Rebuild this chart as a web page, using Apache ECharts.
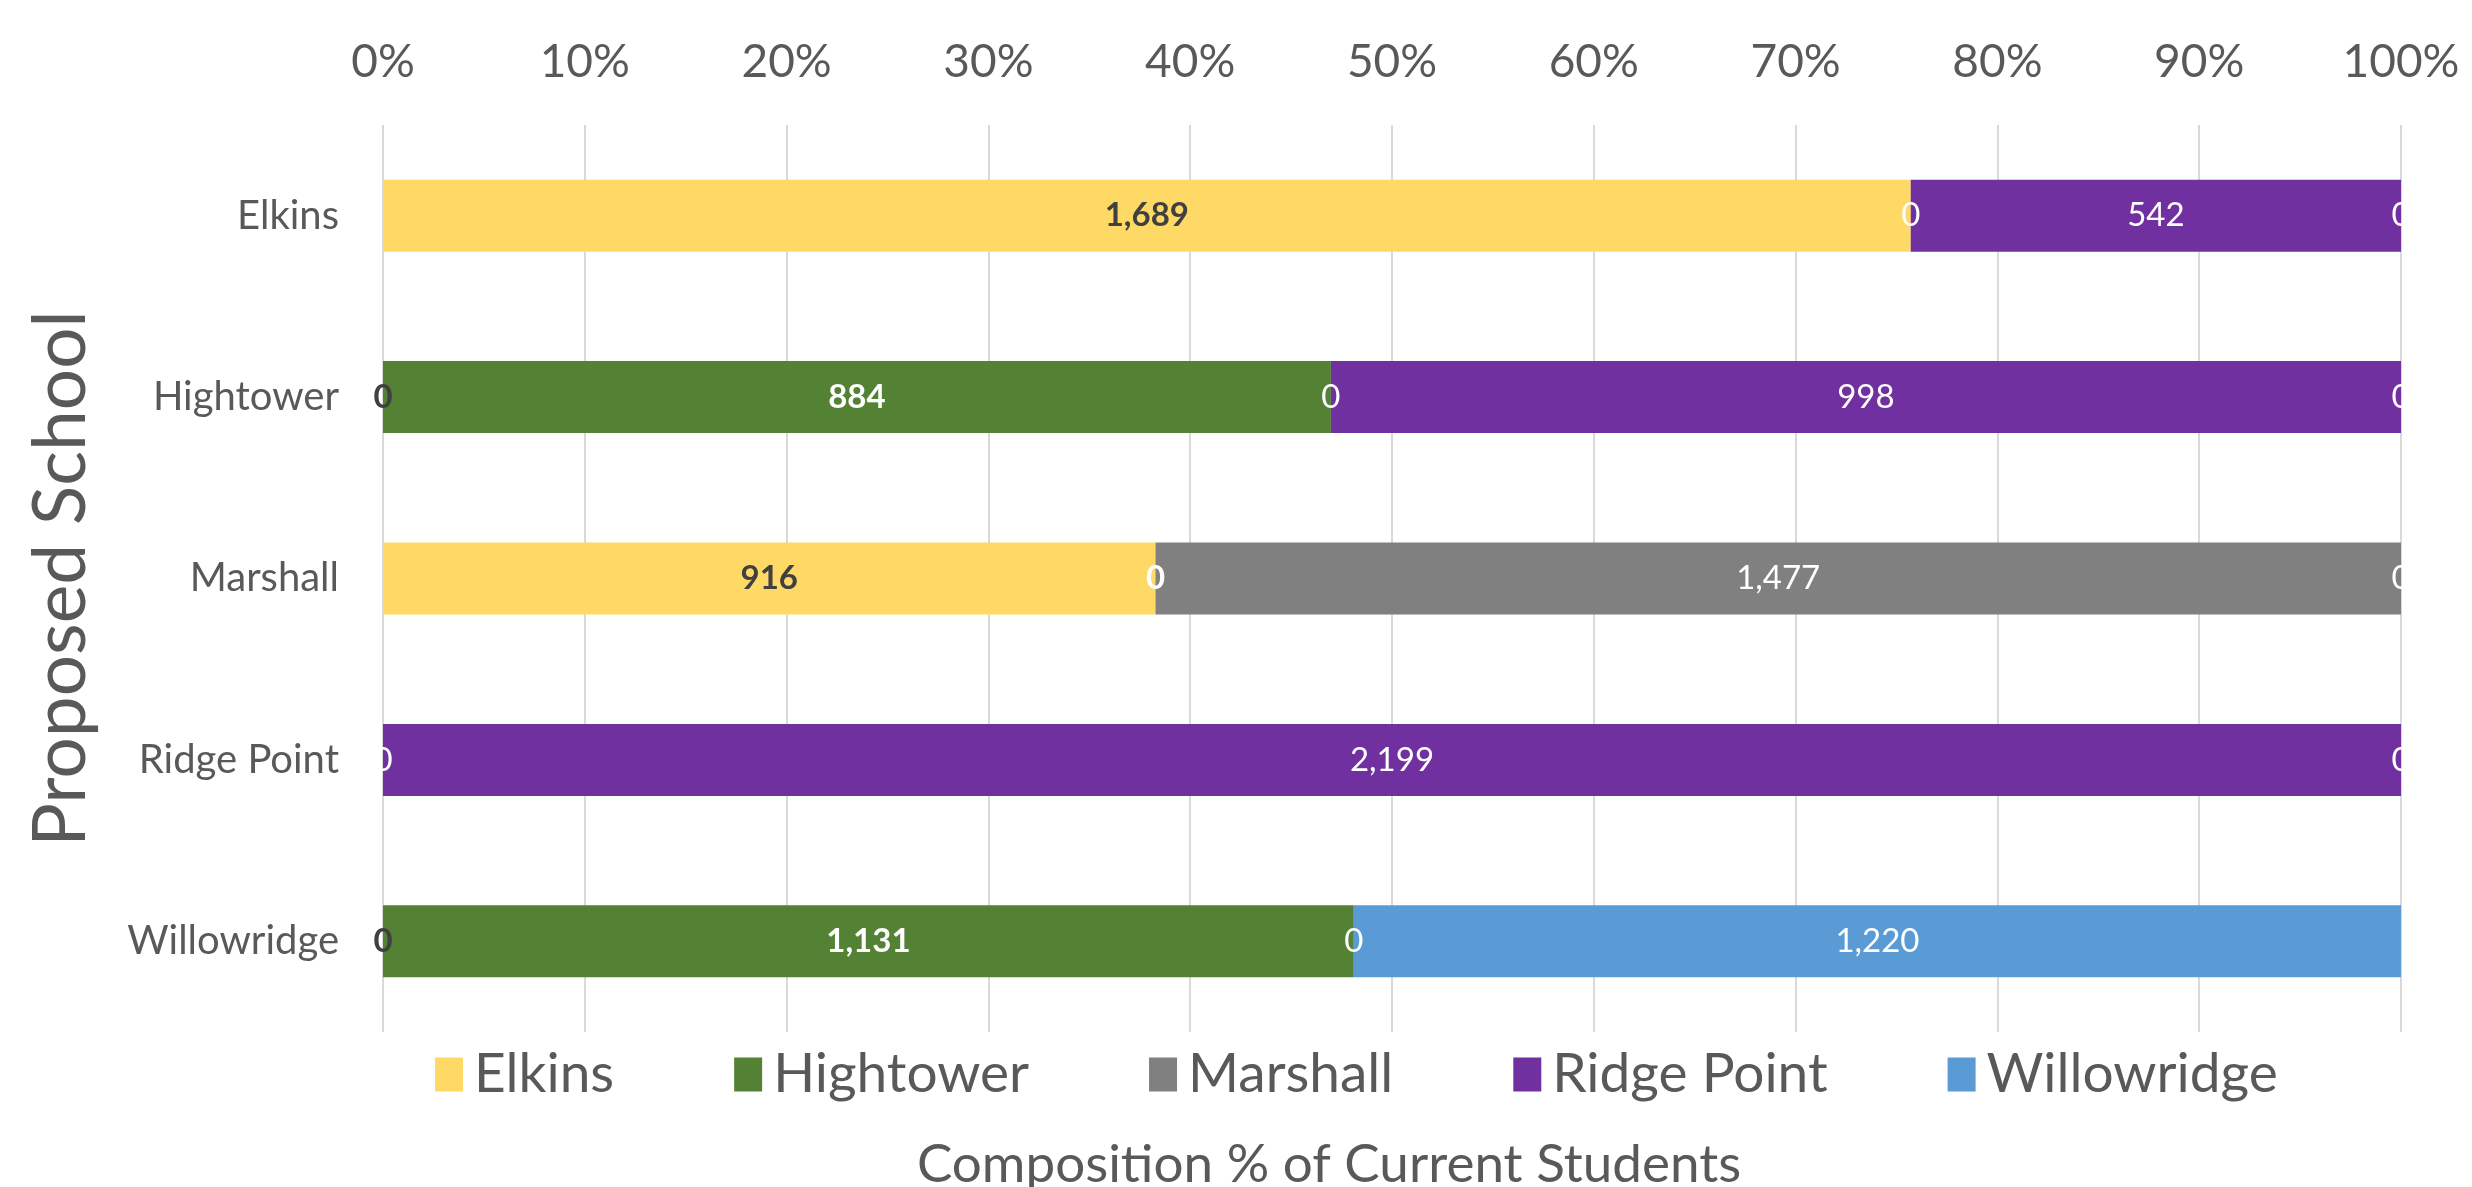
<!DOCTYPE html>
<html>
<head>
<meta charset="utf-8">
<script src="https://cdn.jsdelivr.net/npm/echarts@6/dist/echarts.min.js"></script>
<style>
  html, body { margin: 0; padding: 0; background: #fff; }
  #chart { width: 2472px; height: 1187px; }
</style>
</head>
<body>
<div id="chart"></div>
<script>
// proposed schools (rows, top to bottom)
var schools = ['Elkins', 'Hightower', 'Marshall', 'Ridge Point', 'Willowridge'];

// current students by current school, per proposed school (null = no label shown)
var elkins      = [1689, 0, 916, null, 0];
var hightower   = [null, 884, 0, null, 1131];
var marshall    = [0, 0, 1477, 0, null];
var ridgePoint  = [542, 998, null, 2199, 0];
var willowridge = [0, 0, 0, 0, 1220];

var seriesNames = ['Elkins', 'Hightower', 'Marshall', 'Ridge Point', 'Willowridge'];
var seriesData = [elkins, hightower, marshall, ridgePoint, willowridge];
var colors = ['#FFD966', '#548235', '#808080', '#7030A0', '#5B9BD5'];

var FONT = 'Lato';

// row totals, for the 100% stacking
var totals = schools.map(function (s, i) {
	var sum = 0;
	seriesData.forEach(function (arr) { sum += arr[i] || 0; });
	return sum;
});

function fmt(n) {
	return String(n).replace(/\B(?=(\d{3})+(?!\d))/g, ',');
}

var series = seriesNames.map(function (name, k) {
	var dark = k === 0;
	var bold = k <= 1;
	return {
		name: name,
		type: 'bar',
		stack: 'total',
		barWidth: 72,
		itemStyle: { color: colors[k] },
		label: {
			show: true,
			position: 'inside',
			fontFamily: FONT,
			fontSize: 33,
			fontWeight: bold ? 'bold' : 'normal',
			color: dark ? '#404040' : '#ffffff',
			formatter: function (p) { return fmt(p.data.raw); }
		},
		data: seriesData[k].map(function (v, i) {
			if (v === null) return null;
			return { value: v / totals[i] * 100, raw: v };
		})
	};
});

var chart = echarts.init(document.getElementById('chart'));

var option = {
	backgroundColor: '#ffffff',
	animation: false,
	grid: {
		left: 383,
		right: 71,
		top: 125,
		bottom: 155
	},
	xAxis: {
		type: 'value',
		position: 'top',
		min: 0,
		max: 100,
		interval: 10,
		axisLine: { show: false },
		axisTick: { show: false },
		axisLabel: {
			margin: 40,
			fontFamily: FONT,
			fontSize: 46,
			color: '#595959',
			formatter: '{value}%'
		},
		splitLine: { lineStyle: { color: '#d9d9d9', width: 2 } }
	},
	yAxis: {
		type: 'category',
		inverse: true,
		data: schools,
		axisLine: { show: false },
		axisTick: { show: false },
		axisLabel: {
			margin: 44,
			fontFamily: FONT,
			fontSize: 40,
			color: '#595959'
		},
		name: 'Proposed School',
		nameLocation: 'middle',
		nameRotate: 90,
		nameGap: 285,
		nameTextStyle: {
			fontFamily: FONT,
			fontSize: 73,
			color: '#595959'
		}
	},
	legend: {
		left: 430,
		top: 1042,
		itemWidth: 28,
		itemHeight: 34,
		itemGap: 120,
		icon: 'rect',
		textStyle: {
			fontFamily: FONT,
			fontSize: 55,
			color: '#595959',
			padding: [0, 0, 0, 6]
		},
		data: seriesNames
	},
	title: {
		text: 'Composition % of Current Students',
		left: 1324,
		top: 1133,
		textAlign: 'center',
		textStyle: {
			fontFamily: FONT,
			fontSize: 53,
			fontWeight: 'normal',
			color: '#595959'
		}
	},
	// plot area clips the labels that sit on the 100% edge, like the original
	graphic: [{
		type: 'rect',
		z: 100,
		shape: { x: 2403, y: 125, width: 69, height: 907 },
		style: { fill: '#ffffff' }
	}],
	series: series
};

chart.setOption(option);
</script>
</body>
</html>
